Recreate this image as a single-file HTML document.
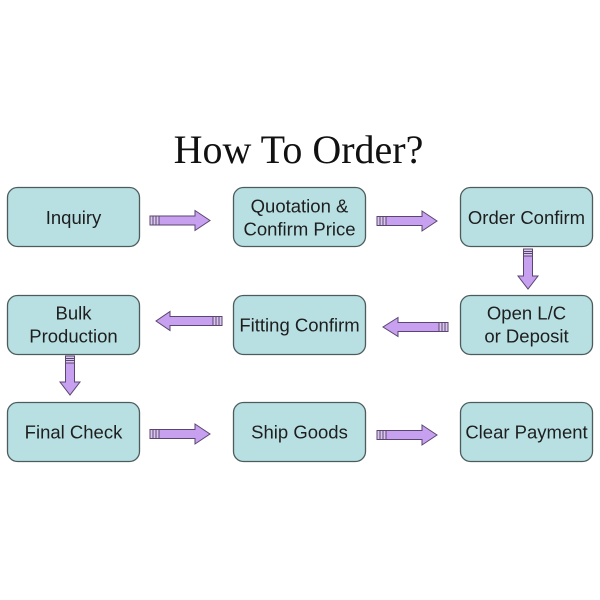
<!DOCTYPE html>
<html>
<head>
<meta charset="utf-8">
<style>
html,body{margin:0;padding:0;background:#fff;}
svg{display:block;}
</style>
</head>
<body>
<svg width="600" height="600" viewBox="0 0 600 600" xmlns="http://www.w3.org/2000/svg">
<rect width="600" height="600" fill="#fff"/>
<text x="298.5" y="163" text-anchor="middle" font-family="Liberation Serif, serif" font-size="40" fill="#111">How To Order?</text>

<g fill="#b8e0e2" stroke="#4c5c5d" stroke-width="1.3">
  <rect x="7.5" y="187.5" width="132" height="59" rx="10"/>
  <rect x="233.5" y="187.5" width="132" height="59" rx="10"/>
  <rect x="460.5" y="187.5" width="132" height="59" rx="10"/>
  <rect x="7.5" y="295.5" width="132" height="59" rx="10"/>
  <rect x="233.5" y="295.5" width="132" height="59" rx="10"/>
  <rect x="460.5" y="295.5" width="132" height="59" rx="10"/>
  <rect x="7.5" y="402.5" width="132" height="59" rx="10"/>
  <rect x="233.5" y="402.5" width="132" height="59" rx="10"/>
  <rect x="460.5" y="402.5" width="132" height="59" rx="10"/>
</g>

<g font-family="Liberation Sans, Arial, sans-serif" font-size="18.5" fill="#1e1e1e" text-anchor="middle">
  <text x="73.5" y="224">Inquiry</text>
  <text x="299.5" y="212.5">Quotation &amp;</text>
  <text x="299.5" y="235.5">Confirm Price</text>
  <text x="526.5" y="224">Order Confirm</text>
  <text x="73.5" y="319.5">Bulk</text>
  <text x="73.5" y="342.5">Production</text>
  <text x="299.5" y="331.5">Fitting Confirm</text>
  <text x="526.5" y="319.5">Open L/C</text>
  <text x="526.5" y="342.5">or Deposit</text>
  <text x="73.5" y="438.5">Final Check</text>
  <text x="299.5" y="438.5">Ship Goods</text>
  <text x="526.5" y="438.5">Clear Payment</text>
</g>

<g fill="#c7a0f0" stroke="#5a4670" stroke-width="1">
  <!-- right arrows -->
  <!-- row1 a1: x 150-210, cy 220 -->
  <g transform="translate(150,220.5)">
    <rect x="0" y="-4.5" width="9" height="9" fill="#d9c6ee"/>
    <line x1="3" y1="-4.5" x2="3" y2="4.5"/><line x1="6" y1="-4.5" x2="6" y2="4.5"/>
    <polygon points="9,-4.5 45,-4.5 45,-10 60,0 45,10 45,4.5 9,4.5"/>
  </g>
  <g transform="translate(377,221)">
    <rect x="0" y="-4.5" width="9" height="9" fill="#d9c6ee"/>
    <line x1="3" y1="-4.5" x2="3" y2="4.5"/><line x1="6" y1="-4.5" x2="6" y2="4.5"/>
    <polygon points="9,-4.5 45,-4.5 45,-10 60,0 45,10 45,4.5 9,4.5"/>
  </g>
  <g transform="translate(150,434)">
    <rect x="0" y="-4.5" width="9" height="9" fill="#d9c6ee"/>
    <line x1="3" y1="-4.5" x2="3" y2="4.5"/><line x1="6" y1="-4.5" x2="6" y2="4.5"/>
    <polygon points="9,-4.5 45,-4.5 45,-10 60,0 45,10 45,4.5 9,4.5"/>
  </g>
  <g transform="translate(377,435)">
    <rect x="0" y="-4.5" width="9" height="9" fill="#d9c6ee"/>
    <line x1="3" y1="-4.5" x2="3" y2="4.5"/><line x1="6" y1="-4.5" x2="6" y2="4.5"/>
    <polygon points="9,-4.5 45,-4.5 45,-10 60,0 45,10 45,4.5 9,4.5"/>
  </g>

  <!-- left arrows -->
  <g transform="translate(222,321) scale(-1,1)">
    <rect x="0" y="-4.5" width="9" height="9" fill="#d9c6ee"/>
    <line x1="3" y1="-4.5" x2="3" y2="4.5"/><line x1="6" y1="-4.5" x2="6" y2="4.5"/>
    <polygon points="9,-4.5 52,-4.5 52,-9.5 66,0 52,9.5 52,4.5 9,4.5"/>
  </g>
  <g transform="translate(448,327) scale(-1,1)">
    <rect x="0" y="-4.5" width="9" height="9" fill="#d9c6ee"/>
    <line x1="3" y1="-4.5" x2="3" y2="4.5"/><line x1="6" y1="-4.5" x2="6" y2="4.5"/>
    <polygon points="9,-4.5 50,-4.5 50,-9.5 65,0 50,9.5 50,4.5 9,4.5"/>
  </g>

  <!-- down arrows -->
  <g transform="translate(528,249) rotate(90)">
    <rect x="0" y="-4.5" width="7" height="9" fill="#d9c6ee"/>
    <line x1="2.5" y1="-4.5" x2="2.5" y2="4.5"/><line x1="4.5" y1="-4.5" x2="4.5" y2="4.5"/>
    <polygon points="7,-4.5 27,-4.5 27,-10 40,0 27,10 27,4.5 7,4.5"/>
  </g>
  <g transform="translate(70,356) rotate(90)">
    <rect x="0" y="-4.5" width="7" height="9" fill="#d9c6ee"/>
    <line x1="2.5" y1="-4.5" x2="2.5" y2="4.5"/><line x1="4.5" y1="-4.5" x2="4.5" y2="4.5"/>
    <polygon points="7,-4.5 26,-4.5 26,-10 39,0 26,10 26,4.5 7,4.5"/>
  </g>
</g>
</svg>
</body>
</html>
